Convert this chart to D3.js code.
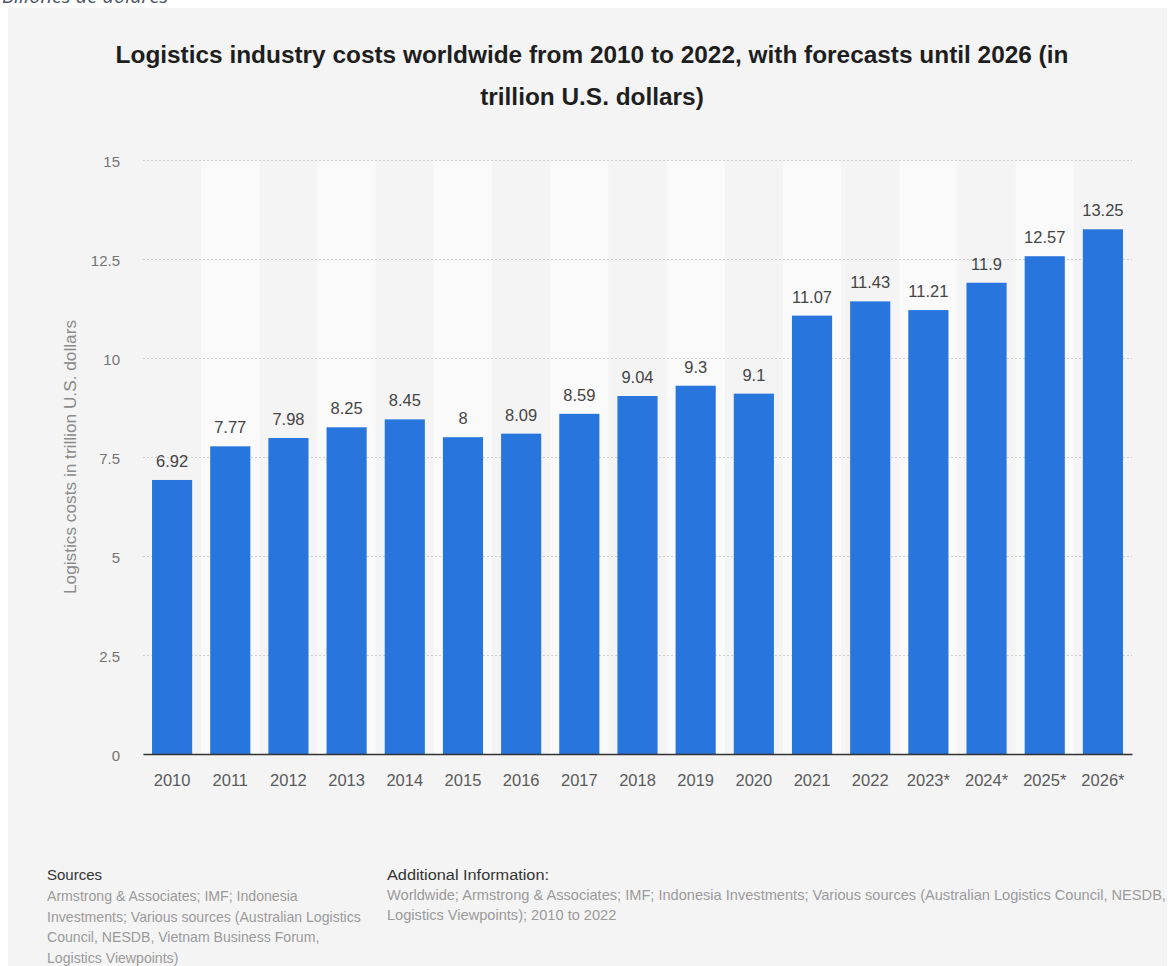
<!DOCTYPE html>
<html>
<head>
<meta charset="utf-8">
<script src="https://cdn.jsdelivr.net/npm/d3@7"></script>
<style>
  html, body { margin: 0; padding: 0; background: #ffffff; }
  svg { display: block; }
  text { font-family: "Liberation Sans", Arial, Helvetica, sans-serif; }
</style>
</head>
<body>
<svg id="chart" width="1169" height="966"></svg>
<script>
// Logistics industry costs worldwide (trillion U.S. dollars)
const years = ["2010", "2011", "2012", "2013", "2014", "2015", "2016", "2017", "2018",
               "2019", "2020", "2021", "2022", "2023*", "2024*", "2025*", "2026*"];
const costs = [6.92, 7.77, 7.98, 8.25, 8.45, 8, 8.09, 8.59, 9.04,
               9.3, 9.1, 11.07, 11.43, 11.21, 11.9, 12.57, 13.25];
const yTicks = [0, 2.5, 5, 7.5, 10, 12.5, 15];

const titleLines = [
  "Logistics industry costs worldwide from 2010 to 2022, with forecasts until 2026 (in",
  "trillion U.S. dollars)"
];
const yAxisTitle = "Logistics costs in trillion U.S. dollars";
const sourcesLines = [
  "Armstrong & Associates; IMF; Indonesia",
  "Investments; Various sources (Australian Logistics",
  "Council, NESDB, Vietnam Business Forum,",
  "Logistics Viewpoints)"
];
const additionalLines = [
  "Worldwide; Armstrong & Associates; IMF; Indonesia Investments; Various sources (Australian Logistics Council, NESDB,",
  "Logistics Viewpoints); 2010 to 2022"
];

const svg = d3.select("#chart");

// page caption partly above the panel
svg.append("text")
  .attr("x", 2).attr("y", 3)
  .style("font-family", "'Open Sans', sans-serif")
  .style("font-style", "italic")
  .attr("font-size", 20)
  .attr("fill", "#4a5566")
  .text("Billones de dólares");

// grey panel
svg.append("rect")
  .attr("x", 8).attr("y", 8)
  .attr("width", 1159).attr("height", 966)
  .attr("fill", "#f4f4f4");

const plot = { left: 143, right: 1132, top: 160, bottom: 754 };

const x = d3.scaleBand()
  .domain(years)
  .range([plot.left, plot.right])
  .paddingInner(0.31)
  .paddingOuter(0.155);

const y = d3.scaleLinear()
  .domain([0, 15])
  .range([plot.bottom, plot.top]);

const step = x.step();

// alternating column shading
svg.append("g")
  .selectAll("rect")
  .data(years.filter((d, i) => i % 2 === 1))
  .join("rect")
  .attr("x", d => x(d) - x.paddingInner() * step / 2)
  .attr("y", plot.top)
  .attr("width", step)
  .attr("height", plot.bottom - plot.top)
  .attr("fill", "#fafafa");

// title
svg.append("g")
  .selectAll("text")
  .data(titleLines)
  .join("text")
  .attr("x", 592)
  .attr("y", (d, i) => 63 + i * 42)
  .attr("text-anchor", "middle")
  .attr("font-size", 24.4)
  .attr("font-weight", "bold")
  .attr("fill", "#1e1e1e")
  .text(d => d);

// y axis with dotted gridlines
const yAxis = svg.append("g")
  .attr("transform", `translate(${plot.left},0)`)
  .call(d3.axisLeft(y)
    .tickValues(yTicks)
    .tickSize(-(plot.right - plot.left))
    .tickPadding(23)
    .tickFormat(d3.format("")));
yAxis.select(".domain").remove();
yAxis.selectAll(".tick line")
  .attr("stroke", "#cfcfcf")
  .attr("stroke-dasharray", "2,2")
  .attr("stroke-width", 1);
yAxis.selectAll(".tick text")
  .attr("font-size", 15)
  .attr("fill", "#737373")
  .attr("dy", "0.4em")
  .style("font-family", "'Liberation Sans', Arial, sans-serif");

// bars
svg.append("g")
  .selectAll("rect")
  .data(costs)
  .join("rect")
  .attr("x", (d, i) => x(years[i]))
  .attr("y", d => y(d))
  .attr("width", x.bandwidth())
  .attr("height", d => y(0) - y(d))
  .attr("fill", "#2876dd");

// value labels
svg.append("g")
  .selectAll("text")
  .data(costs)
  .join("text")
  .attr("x", (d, i) => x(years[i]) + x.bandwidth() / 2)
  .attr("y", d => y(d) - 13)
  .attr("text-anchor", "middle")
  .attr("font-size", 16.5)
  .attr("fill", "#444444")
  .text(d => d);

// x axis
const xAxis = svg.append("g")
  .attr("transform", `translate(0,${plot.bottom})`)
  .call(d3.axisBottom(x).tickSize(0).tickPadding(20));
xAxis.select(".domain")
  .attr("stroke", "#333333")
  .attr("stroke-width", 1.6);
xAxis.selectAll(".tick text")
  .attr("font-size", 16.5)
  .attr("fill", "#5a5a5a")
  .style("font-family", "'Liberation Sans', Arial, sans-serif");

// y axis title
svg.append("text")
  .attr("transform", `translate(76,457) rotate(-90)`)
  .attr("text-anchor", "middle")
  .attr("font-size", 16)
  .attr("textLength", 274)
  .attr("lengthAdjust", "spacingAndGlyphs")
  .attr("fill", "#8a8a8a")
  .text(yAxisTitle);

// footer: sources
svg.append("text")
  .attr("x", 47).attr("y", 880)
  .attr("font-size", 15)
  .attr("fill", "#333333")
  .text("Sources");
svg.append("g")
  .selectAll("text")
  .data(sourcesLines)
  .join("text")
  .attr("x", 47)
  .attr("y", (d, i) => 901 + i * 20.5)
  .attr("font-size", 14.1)
  .attr("fill", "#9a9a9a")
  .text(d => d);

// footer: additional information
svg.append("text")
  .attr("x", 387).attr("y", 880)
  .attr("font-size", 15.5)
  .attr("textLength", 162)
  .attr("lengthAdjust", "spacingAndGlyphs")
  .attr("fill", "#333333")
  .text("Additional Information:");
svg.append("g")
  .selectAll("text")
  .data(additionalLines)
  .join("text")
  .attr("x", 387)
  .attr("y", (d, i) => 900 + i * 20)
  .attr("font-size", 14.6)
  .attr("fill", "#9a9a9a")
  .text(d => d);
</script>
</body>
</html>
